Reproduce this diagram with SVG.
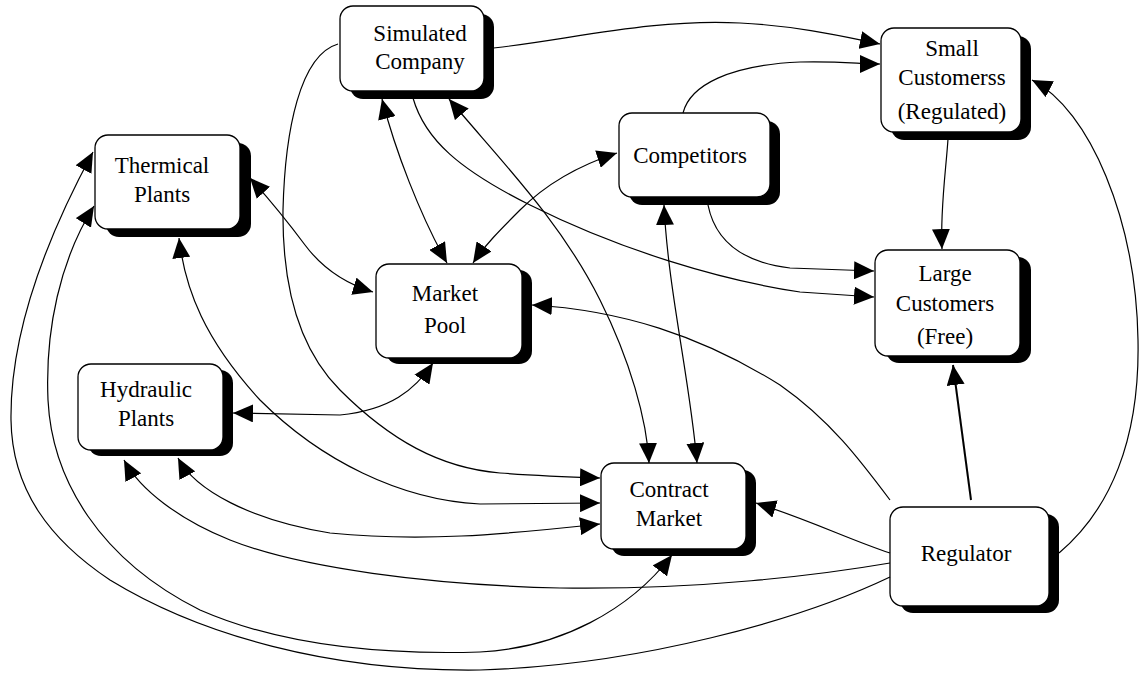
<svg xmlns="http://www.w3.org/2000/svg" width="1140" height="673" viewBox="0 0 1140 673">
<defs>
<style>
.box{fill:#fff;stroke:#000;stroke-width:1.3}
.sh{fill:#000}
.t{font-family:"Liberation Serif","DejaVu Serif",serif;font-size:23px;fill:#000;text-anchor:middle}
.c{fill:none;stroke:#000;stroke-width:1.2}
.k{fill:none;stroke:#000;stroke-width:2}
</style>
<marker id="ah" viewBox="0 0 20 18" refX="20" refY="9" markerWidth="20" markerHeight="18" markerUnits="userSpaceOnUse" orient="auto-start-reverse"><path d="M0,0 L20,9 L0,18 z" fill="#000"/></marker>
</defs>
<rect width="1140" height="673" fill="#fff"/>
<g id="simulated-company">
<rect class="sh" x="350" y="14" width="144" height="85" rx="13"/>
<rect class="box" x="340" y="6" width="144" height="85" rx="13"/>
<text class="t" font-family="Liberation Serif, serif" x="420" y="41">Simulated</text>
<text class="t" font-family="Liberation Serif, serif" x="420" y="69">Company</text>
</g>
<g id="small-customers">
<rect class="sh" x="891" y="36" width="140" height="104" rx="13"/>
<rect class="box" x="881" y="28" width="140" height="104" rx="13"/>
<text class="t" font-family="Liberation Serif, serif" x="952" y="56">Small</text>
<text class="t" font-family="Liberation Serif, serif" x="952" y="85">Customerss</text>
<text class="t" font-family="Liberation Serif, serif" x="952" y="119">(Regulated)</text>
</g>
<g id="competitors">
<rect class="sh" x="629" y="121" width="151" height="84" rx="13"/>
<rect class="box" x="619" y="113" width="151" height="84" rx="13"/>
<text class="t" font-family="Liberation Serif, serif" x="690" y="163">Competitors</text>
</g>
<g id="thermical-plants">
<rect class="sh" x="106" y="143" width="145" height="94" rx="13"/>
<rect class="box" x="95" y="135" width="145" height="94" rx="13"/>
<text class="t" font-family="Liberation Serif, serif" x="162" y="173">Thermical</text>
<text class="t" font-family="Liberation Serif, serif" x="162" y="202">Plants</text>
</g>
<g id="market-pool">
<rect class="sh" x="386" y="270" width="146" height="94" rx="13"/>
<rect class="box" x="376" y="264" width="146" height="94" rx="13"/>
<text class="t" font-family="Liberation Serif, serif" x="445" y="301">Market</text>
<text class="t" font-family="Liberation Serif, serif" x="445" y="333">Pool</text>
</g>
<g id="hydraulic-plants">
<rect class="sh" x="88" y="370" width="145" height="86" rx="13"/>
<rect class="box" x="78" y="364" width="145" height="86" rx="13"/>
<text class="t" font-family="Liberation Serif, serif" x="146" y="397">Hydraulic</text>
<text class="t" font-family="Liberation Serif, serif" x="146" y="426">Plants</text>
</g>
<g id="contract-market">
<rect class="sh" x="611" y="470" width="145" height="86" rx="13"/>
<rect class="box" x="601" y="463" width="145" height="86" rx="13"/>
<text class="t" font-family="Liberation Serif, serif" x="669" y="497">Contract</text>
<text class="t" font-family="Liberation Serif, serif" x="669" y="526">Market</text>
</g>
<g id="large-customers">
<rect class="sh" x="886" y="257" width="145" height="106" rx="13"/>
<rect class="box" x="875" y="250" width="145" height="106" rx="13"/>
<text class="t" font-family="Liberation Serif, serif" x="945" y="281">Large</text>
<text class="t" font-family="Liberation Serif, serif" x="945" y="311">Customers</text>
<text class="t" font-family="Liberation Serif, serif" x="945" y="344">(Free)</text>
</g>
<g id="regulator">
<rect class="sh" x="900" y="514" width="159" height="99" rx="13"/>
<rect class="box" x="890" y="507" width="159" height="99" rx="13"/>
<text class="t" font-family="Liberation Serif, serif" x="966" y="561">Regulator</text>
</g>
<g id="connectors">
<path class="c" d="M484,49 C560,42 650,18 740,23 C800,26 850,38 880,44" marker-end="url(#ah)"/>
<path class="c" d="M683,113 C690,85 730,65 800,62 C840,61 860,64 880,64" marker-end="url(#ah)"/>
<path class="c" d="M948,139 C946,170 940,210 942,249" marker-end="url(#ah)"/>
<path class="c" d="M1059,553 C1110,510 1140,440 1138,340 C1136,220 1090,110 1032,80" marker-end="url(#ah)"/>
<path class="c" d="M338,44 C300,55 285,130 283,210 C282,290 300,350 340,390 C390,440 440,468 500,473 C540,476 570,477 600,478" marker-end="url(#ah)"/>
<path class="c" d="M382,99 C395,150 420,215 447,263" marker-start="url(#ah)" marker-end="url(#ah)"/>
<path class="c" d="M449,99 C500,160 560,220 600,300 C630,360 647,420 649,463" marker-start="url(#ah)" marker-end="url(#ah)"/>
<path class="c" d="M413,98 C425,140 460,170 530,205 C620,250 720,280 800,292 L874,297" marker-end="url(#ah)"/>
<path class="c" d="M708,205 C715,240 740,262 790,268 L874,271" marker-end="url(#ah)"/>
<path class="c" d="M664,205 C668,290 690,380 697,463" marker-start="url(#ah)" marker-end="url(#ah)"/>
<path class="c" d="M617,153 C580,165 545,185 520,210 C500,230 485,245 473,263" marker-start="url(#ah)" marker-end="url(#ah)"/>
<path class="c" d="M250,178 C270,200 290,225 305,245 C320,265 340,282 373,292" marker-start="url(#ah)" marker-end="url(#ah)"/>
<path class="c" d="M433,363 C415,390 390,410 340,415 L233,413" marker-start="url(#ah)" marker-end="url(#ah)"/>
<path class="c" d="M179,238 C185,290 205,340 260,400 C320,460 400,500 480,504 L600,503" marker-start="url(#ah)" marker-end="url(#ah)"/>
<path class="c" d="M178,458 C195,490 250,520 330,533 C420,542 500,535 600,524" marker-start="url(#ah)" marker-end="url(#ah)"/>
<path class="c" d="M890,563 C820,575 700,590 560,588 C430,585 300,568 230,540 C180,520 140,490 124,460" marker-end="url(#ah)"/>
<path class="c" d="M890,577 C800,620 640,665 480,670 C330,672 200,635 110,580 C50,540 12,490 11,420 C10,340 40,250 93,152" marker-end="url(#ah)"/>
<path class="c" d="M94,206 C60,260 45,330 48,400 C52,480 100,560 200,610 C280,645 380,655 480,652 C560,648 630,610 672,555" marker-start="url(#ah)" marker-end="url(#ah)"/>
<path class="c" d="M890,500 C860,460 830,420 780,385 C700,335 620,310 532,305" marker-end="url(#ah)"/>
<path class="c" d="M890,553 C850,540 810,520 756,503" marker-end="url(#ah)"/>
<path class="k" d="M971,500 L953,365" marker-end="url(#ah)"/>
</g>
</svg>
